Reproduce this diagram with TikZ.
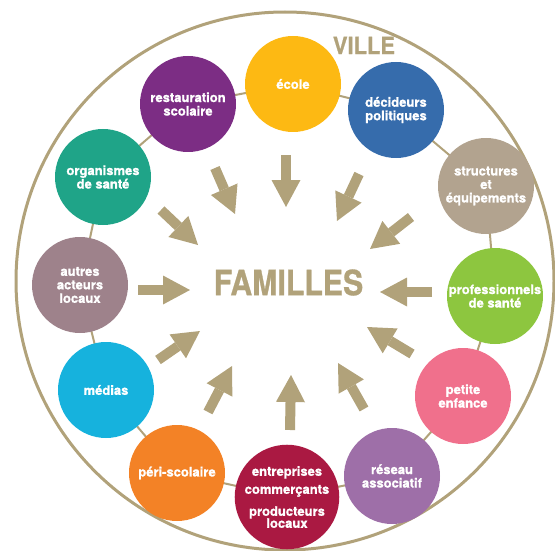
\documentclass[tikz,border=0pt]{standalone}
\usepackage{fontspec}
\setmainfont{TeX Gyre Heros}
\newfontfamily\heavy{TeX Gyre Heros}[FakeBold=0.9]
\usetikzlibrary{arrows.meta,backgrounds}
\definecolor{villetan}{HTML}{B1A27A}
\definecolor{cEcole}{HTML}{FDB913}
\definecolor{cDecid}{HTML}{366CAC}
\definecolor{cStruct}{HTML}{B2A38F}
\definecolor{cProf}{HTML}{8DC63F}
\definecolor{cPetite}{HTML}{F0708C}
\definecolor{cReseau}{HTML}{9E6FA8}
\definecolor{cEntr}{HTML}{AA1942}
\definecolor{cPeri}{HTML}{F38226}
\definecolor{cMedias}{HTML}{16B2DD}
\definecolor{cAutres}{HTML}{9E828B}
\definecolor{cOrg}{HTML}{1FA488}
\definecolor{cResto}{HTML}{7C2D84}
\begin{document}
\begin{tikzpicture}[x=1pt,y=-1pt,
  actor/.style={circle, minimum size=96pt, inner sep=0pt, text=white,
    font=\heavy\bfseries\fontsize{13}{13.5}\selectfont, align=center},
  push/.style={line width=10pt, draw=villetan, line cap=butt,
    -{Triangle[width=29pt,length=27pt,line width=0pt]}},
  ringline/.style={draw=villetan, line width=2pt},
  bigtitle/.style={text=villetan, inner sep=0pt}]
\useasboundingbox (0,0) rectangle (555,551);
\clip (0,0) rectangle (555,551);
% outer circle
\node[circle, draw=villetan, line width=3pt, minimum size=538pt, inner sep=0pt] (ville) at (285,281) {};
\node[bigtitle, font=\heavy\bfseries\fontsize{23.7}{24}\selectfont, xscale=0.925] (villelabel) at (364,45.5) {VILLE};
% actors
\node[actor, fill=cEcole]  (ecole)  at (293,84)  {école};
\node[actor, fill=cDecid]  (decid)  at (396,110) {décideurs\\politiques};
\node[actor, fill=cStruct] (struct) at (486,186) {structures\\et\\équipements};
\node[actor, fill=cProf]   (prof)   at (495,296) {professionnels\\de santé};
\node[actor, fill=cPetite] (petite) at (463,396) {petite\\enfance};
\node[actor, fill=cReseau] (reseau) at (392,476) {réseau\\associatif};
\node[actor, fill=cEntr]   (entr)   at (287,497) {entreprises\\[4.5pt]commerçants\\[8.5pt]producteurs\\[-1.5pt]locaux};
\node[actor, fill=cPeri]   (peri)   at (177,473) {péri-scolaire};
\node[actor, fill=cMedias] (medias) at (106,390) {médias};
\node[actor, fill=cAutres] (autres) at (80,285)  {autres\\acteurs\\locaux};
\node[actor, fill=cOrg]    (org)    at (103,177) {organismes\\de santé};
\node[actor, fill=cResto]  (resto)  at (188,104) {restauration\\scolaire};
% ring behind the actors
\begin{scope}[on background layer]
\draw[ringline] (ecole.center) -- (decid.center) -- (struct.center) -- (prof.center)
  -- (petite.center) -- (reseau.center) -- (entr.center) -- (peri.center)
  -- (medias.center) -- (autres.center) -- (org.center) -- (resto.center) -- (ecole.center);
\end{scope}
% centre
\node[bigtitle, font=\heavy\bfseries\fontsize{34.8}{35}\selectfont, xscale=0.87] (familles) at (288.5,282.5) {FAMILLES};
% arrows
\coordinate (t1) at (286,155);  \coordinate (h1) at (286,207);
\coordinate (t2) at (359,174);  \coordinate (h2) at (337,221);
\coordinate (t3) at (411,217);  \coordinate (h3) at (370,249);
\coordinate (t4) at (432,292);  \coordinate (h4) at (380,292);
\coordinate (t5) at (412,354);  \coordinate (h5) at (367,327);
\coordinate (t6) at (364,409);  \coordinate (h6) at (338,363);
\coordinate (t7) at (290,430);  \coordinate (h7) at (291,375);
\coordinate (t8) at (208,412);  \coordinate (h8) at (232,366);
\coordinate (t9) at (158,360);  \coordinate (h9) at (200,331);
\coordinate (t10) at (138,290); \coordinate (h10) at (190,290);
\coordinate (t11) at (161,210); \coordinate (h11) at (198,245);
\coordinate (t12) at (215,168); \coordinate (h12) at (235,214);
\foreach \i in {1,...,12} { \draw[push] (t\i) -- (h\i); }
\end{tikzpicture}
\end{document}
